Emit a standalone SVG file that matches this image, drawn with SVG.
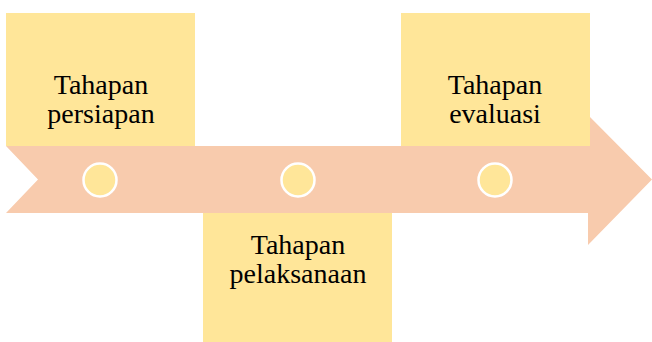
<svg xmlns="http://www.w3.org/2000/svg" width="652" height="342" viewBox="0 0 652 342">
  <style>
    .box { fill: #FFE699; }
    .arrow { fill: #F8CBAD; }
    .dot { fill: #FFE699; stroke: #FFFFFF; stroke-width: 2.5; }
    .label { font-family: "Liberation Serif", "Times New Roman", serif; font-size: 28px; fill: #000000; text-anchor: middle; }
  </style>
  <rect width="652" height="342" fill="#FFFFFF"/>
  <g id="timeline-arrow">
    <polygon class="arrow" points="6,146 588,146 588,115 652,179.5 588,245 588,213 6,213 38,179.5"/>
  </g>
  <g id="connectors">
    <circle class="dot" cx="100" cy="180" r="16.5"/>
    <circle class="dot" cx="298" cy="180" r="16.5"/>
    <circle class="dot" cx="495" cy="180" r="16.5"/>
  </g>
  <g id="node-persiapan">
    <rect class="box" x="6" y="13" width="189" height="133"/>
    <text class="label" x="101" y="94">Tahapan</text>
    <text class="label" x="101" y="123">persiapan</text>
  </g>
  <g id="node-pelaksanaan">
    <rect class="box" x="203" y="213" width="189" height="129"/>
    <text class="label" x="298" y="254">Tahapan</text>
    <text class="label" x="298" y="283">pelaksanaan</text>
  </g>
  <g id="node-evaluasi">
    <rect class="box" x="401" y="13" width="189" height="133"/>
    <text class="label" x="495" y="94">Tahapan</text>
    <text class="label" x="495" y="123">evaluasi</text>
  </g>
</svg>
